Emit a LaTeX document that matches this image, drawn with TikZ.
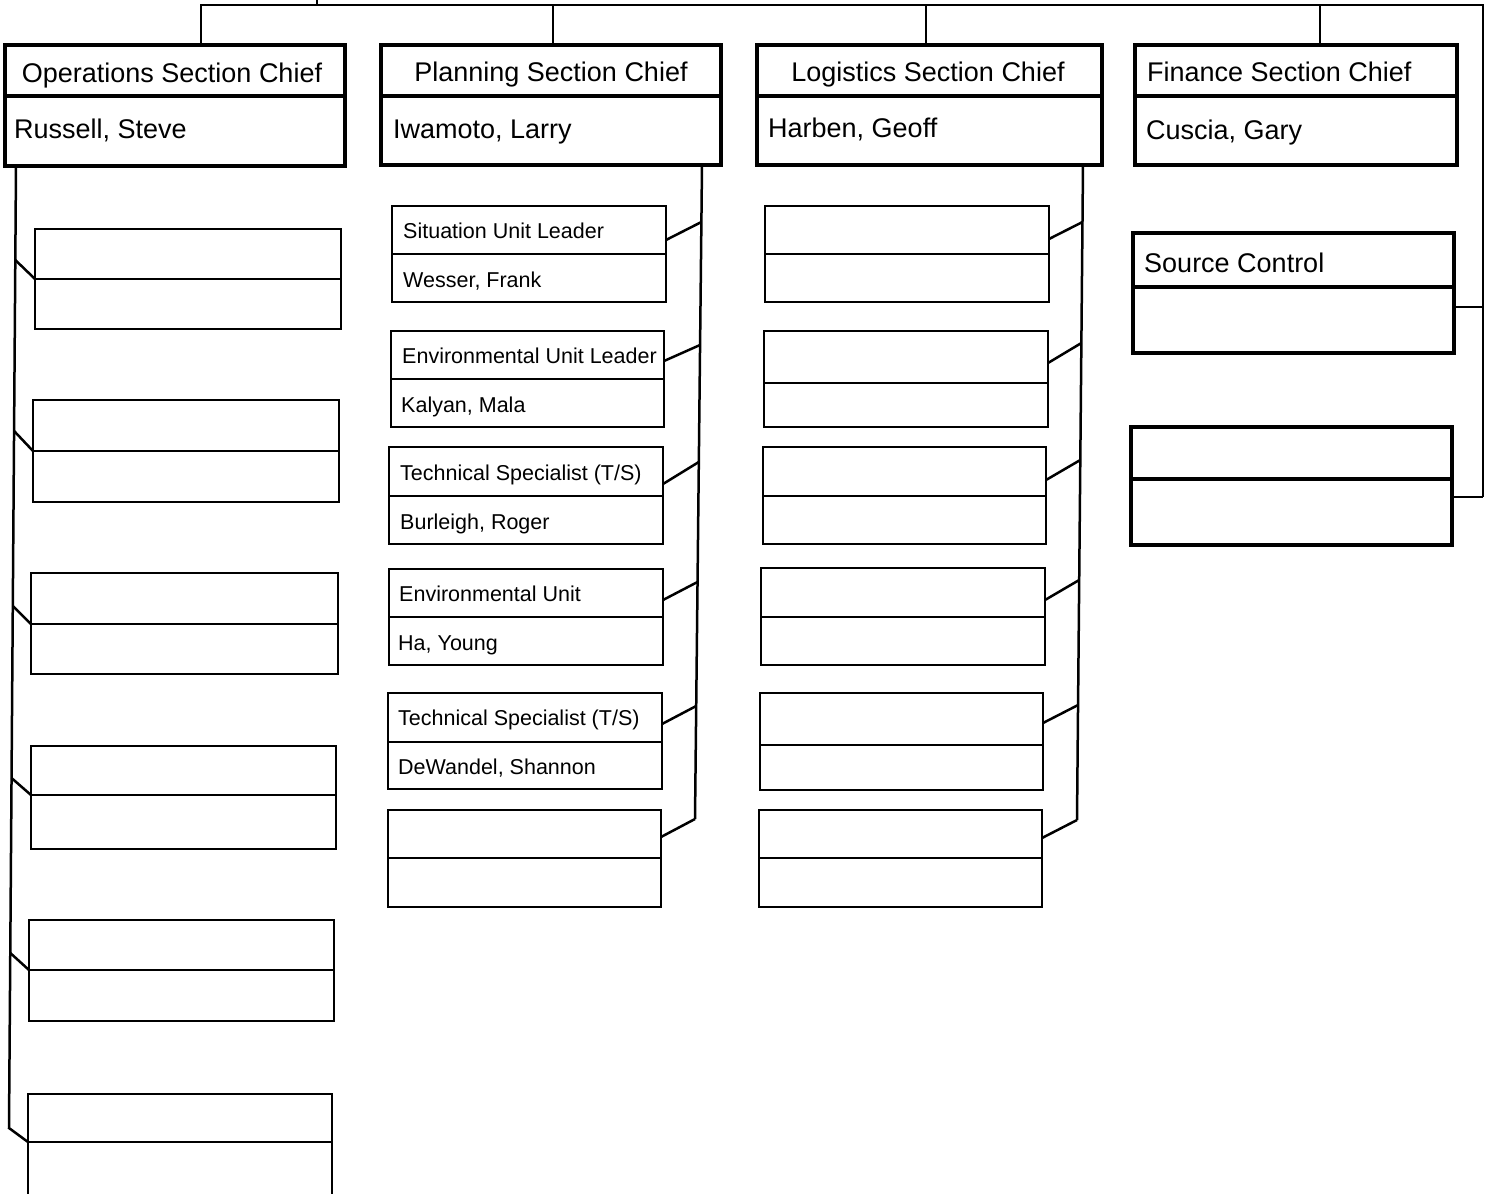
\documentclass[tikz,border=0pt]{standalone}
\usepackage{fontspec}
\setmainfont{Liberation Sans}
\tikzset{
  mainbox/.style={draw, rectangle, line width=3.6pt, inner sep=0pt, outer sep=0pt},
  mainbox div/.style={line width=3.6pt},
  subbox/.style={draw, rectangle, line width=2.6pt, inner sep=0pt, outer sep=0pt},
  subbox div/.style={line width=2.6pt},
  finbox/.style={draw, rectangle, line width=3.6pt, inner sep=0pt, outer sep=0pt},
  finbox div/.style={line width=3.6pt},
  conn/.style={line width=2.5pt, line join=miter},
  bigtxt/.style={font=\fontsize{27}{30}\selectfont, inner sep=0pt, text height=19.3pt, text depth=0pt},
  smalltxt/.style={font=\fontsize{21.5}{24}\selectfont, inner sep=0pt, text height=15.4pt, text depth=0pt},
}
\newcommand{\orgbox}[7]{%
  \pgfmathsetmacro{\bw}{#4-#2}%
  \pgfmathsetmacro{\bh}{#5-#3}%
  \node[#7, anchor=north west, minimum width=\bw pt, minimum height=\bh pt] (#1) at (#2,#3) {};
  \coordinate (#1-dl) at (#2,#6);
  \coordinate (#1-dr) at (#4,#6);
  \draw[#7 div] (#1-dl) -- (#1-dr);
}
\begin{document}
\begin{tikzpicture}[x=1pt,y=-1pt]
\useasboundingbox (0,0) rectangle (1495,1193);
\fill[white] (0,0) rectangle (1495,1193);
\clip (0,0) rectangle (1495,1193);

% ---------- section chiefs ----------
\orgbox{ops}{5}{45}{345}{166}{96}{mainbox}
\orgbox{pl}{381}{45}{721}{165}{96}{mainbox}
\orgbox{lg}{757}{45}{1102}{165}{96}{mainbox}
\orgbox{fn}{1135}{45}{1457}{165}{96}{mainbox}

\node[bigtxt, anchor=center] (ops-t) at (172,73) {Operations Section Chief};
\node[bigtxt, anchor=west] (ops-n) at (14,129) {Russell, Steve};
\node[bigtxt, anchor=center] (pl-t) at (551,72) {Planning Section Chief};
\node[bigtxt, anchor=west] (pl-n) at (393,129) {Iwamoto, Larry};
\node[bigtxt, anchor=center] (lg-t) at (928,72) {Logistics Section Chief};
\node[bigtxt, anchor=west] (lg-n) at (768,128) {Harben, Geoff};
\node[bigtxt, anchor=west] (fn-t) at (1147,72) {Finance Section Chief};
\node[bigtxt, anchor=west] (fn-n) at (1146,130) {Cuscia, Gary};

% ---------- top bar ----------
\coordinate (tA) at (201,5);
\coordinate (tB) at (553,5);
\coordinate (tC) at (926,5);
\coordinate (tD) at (1320,5);
\coordinate (tR) at (1483,5);
\coordinate (tUp) at (317,0);
\coordinate (tUpB) at (317,5);
\draw[conn] (ops.north -| tA) -- (tA) -- (tR) -- (1483,497);
\draw[conn] (pl.north -| tB) -- (tB);
\draw[conn] (lg.north -| tC) -- (tC);
\draw[conn] (fn.north -| tD) -- (tD);
\draw[conn] (tUpB) -- (tUp);

% ---------- operations ----------
\orgbox{ob1}{35}{229}{341}{329}{279}{subbox}
\orgbox{ob2}{33}{400}{339}{502}{451}{subbox}
\orgbox{ob3}{31}{573}{338}{674}{624}{subbox}
\orgbox{ob4}{31}{746}{336}{849}{795}{subbox}
\orgbox{ob5}{29}{920}{334}{1021}{970}{subbox}
\orgbox{ob6}{28}{1094}{332}{1215}{1142}{subbox}
\coordinate (oj0) at (16,166);
\coordinate (oj1) at (15.3,260);
\coordinate (oj2) at (14.1,431);
\coordinate (oj3) at (12.8,606);
\coordinate (oj4) at (11.5,778);
\coordinate (oj5) at (10.3,953);
\coordinate (oj6) at (9,1128);
\draw[conn] (oj0) -- (oj6) -- (ob6-dl);
\draw[conn] (oj1) -- (ob1-dl);
\draw[conn] (oj2) -- (ob2-dl);
\draw[conn] (oj3) -- (ob3-dl);
\draw[conn] (oj4) -- (ob4-dl);
\draw[conn] (oj5) -- (ob5-dl);

% ---------- planning ----------
\orgbox{pb1}{392}{206}{666}{302}{254}{subbox}
\orgbox{pb2}{391}{331}{664}{427}{379}{subbox}
\orgbox{pb3}{389}{447}{663}{544}{496}{subbox}
\orgbox{pb4}{389}{569}{663}{665}{617}{subbox}
\orgbox{pb5}{388}{693}{662}{789}{742}{subbox}
\orgbox{pb6}{388}{810}{661}{907}{858}{subbox}
\node[smalltxt, anchor=west] (pb1-t) at (403,231) {Situation Unit Leader};
\node[smalltxt, anchor=west] (pb1-n) at (403,280) {Wesser, Frank};
\node[smalltxt, anchor=west] (pb2-t) at (402,356) {Environmental Unit Leader};
\node[smalltxt, anchor=west] (pb2-n) at (401,405) {Kalyan, Mala};
\node[smalltxt, anchor=west] (pb3-t) at (400,473) {Technical Specialist (T/S)};
\node[smalltxt, anchor=west] (pb3-n) at (400,522) {Burleigh, Roger};
\node[smalltxt, anchor=west] (pb4-t) at (399,594) {Environmental Unit};
\node[smalltxt, anchor=west] (pb4-n) at (398,643) {Ha, Young};
\node[smalltxt, anchor=west] (pb5-t) at (398,718) {Technical Specialist (T/S)};
\node[smalltxt, anchor=west] (pb5-n) at (398,767) {DeWandel, Shannon};
\coordinate (pj0) at (702,165);
\coordinate (pj1) at (701.4,222);
\coordinate (pj2) at (700,345);
\coordinate (pj3) at (698.8,462);
\coordinate (pj4) at (697.5,582);
\coordinate (pj5) at (696.2,706);
\coordinate (pj6) at (695,819);
\draw[conn] (pj0) -- (pj6);
\draw[conn] (pb1.east |- 0,240) -- (pj1);
\draw[conn] (pb2.east |- 0,361) -- (pj2);
\draw[conn] (pb3.east |- 0,484) -- (pj3);
\draw[conn] (pb4.east |- 0,600) -- (pj4);
\draw[conn] (pb5.east |- 0,724) -- (pj5);
\draw[conn] (pb6.east |- 0,837) -- (pj6);

% ---------- logistics ----------
\orgbox{lb1}{765}{206}{1049}{302}{254}{subbox}
\orgbox{lb2}{764}{331}{1048}{427}{383}{subbox}
\orgbox{lb3}{763}{447}{1046}{544}{496}{subbox}
\orgbox{lb4}{761}{568}{1045}{665}{617}{subbox}
\orgbox{lb5}{760}{693}{1043}{790}{745}{subbox}
\orgbox{lb6}{759}{810}{1042}{907}{858}{subbox}
\coordinate (lj0) at (1083,165);
\coordinate (lj1) at (1082.5,222);
\coordinate (lj2) at (1081.4,343);
\coordinate (lj3) at (1080.3,460);
\coordinate (lj4) at (1079.2,580);
\coordinate (lj5) at (1078.1,705);
\coordinate (lj6) at (1077,820);
\draw[conn] (lj0) -- (lj6);
\draw[conn] (lb1.east |- 0,239) -- (lj1);
\draw[conn] (lb2.east |- 0,363) -- (lj2);
\draw[conn] (lb3.east |- 0,480) -- (lj3);
\draw[conn] (lb4.east |- 0,600) -- (lj4);
\draw[conn] (lb5.east |- 0,723) -- (lj5);
\draw[conn] (lb6.east |- 0,838) -- (lj6);

% ---------- finance ----------
\orgbox{fs1}{1133}{233}{1454}{353}{287}{finbox}
\orgbox{fs2}{1131}{427}{1452}{545}{479}{finbox}
\node[bigtxt, anchor=west] (fs1-t) at (1144,263) {Source Control};
\coordinate (fj1) at (1483,307);
\coordinate (fj2) at (1483,497);
\draw[conn] (fs1.east |- fj1) -- (fj1);
\draw[conn] (fs2.east |- fj2) -- (fj2);
\end{tikzpicture}
\end{document}
